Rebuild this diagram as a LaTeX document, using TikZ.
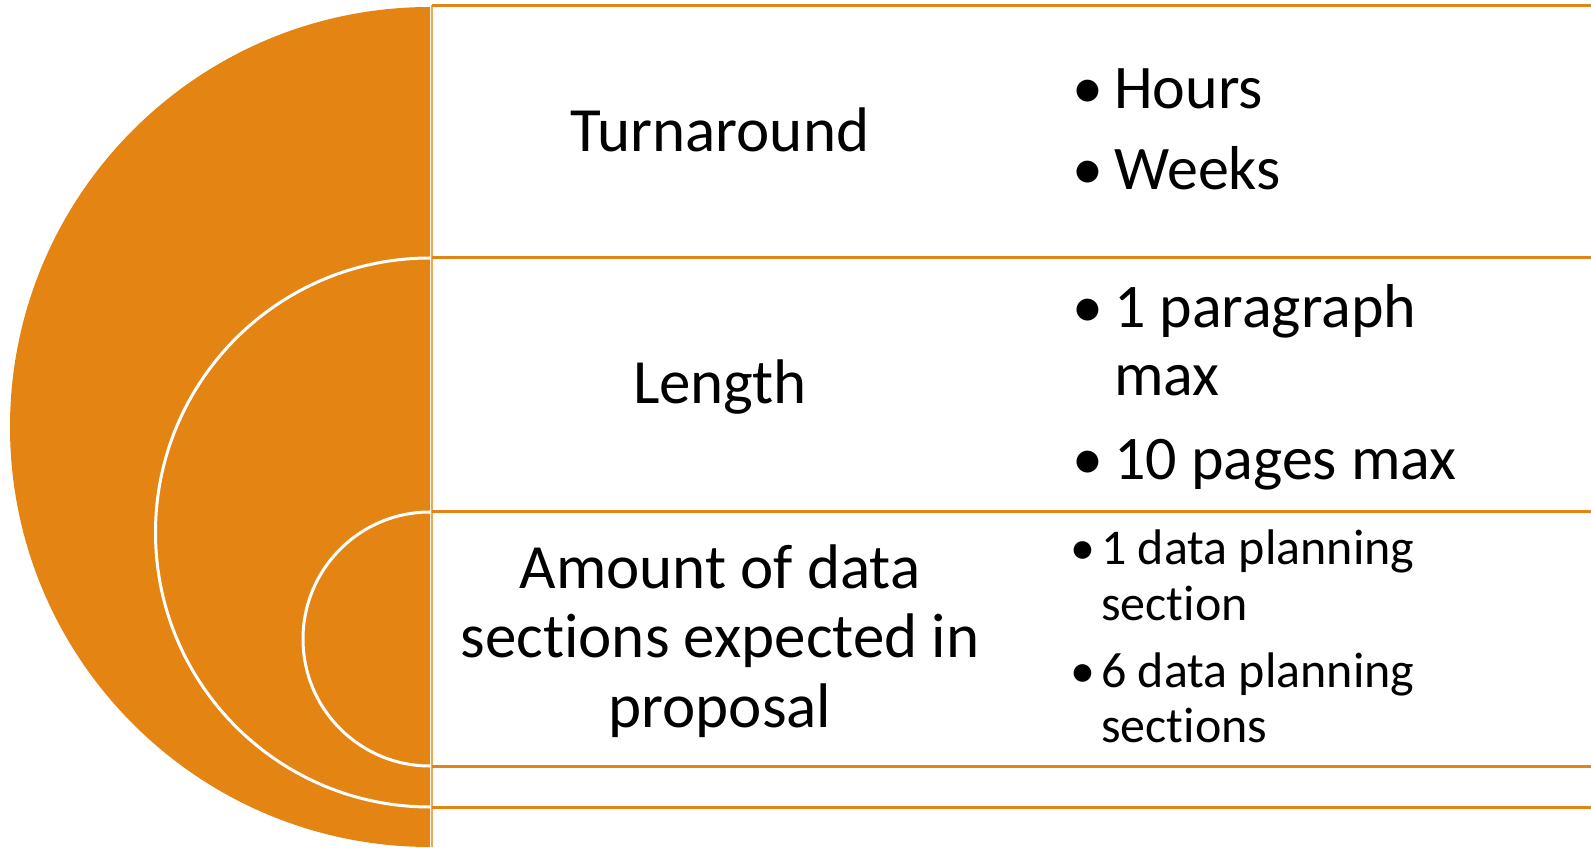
\documentclass[tikz,border=0pt]{standalone}
\usepackage{fontspec}
\setmainfont{Carlito}[Ligatures=NoCommon]
\definecolor{arcorange}{HTML}{E38413}
\newcommand{\bitem}[2]{\makebox[#1][l]{\textbullet}\begin{tabular}[t]{@{}l@{}}#2\end{tabular}}

\begin{document}
\begin{tikzpicture}
  [x=1pt,y=1pt,
   arcw/.style={draw=white,line width=3pt},
   rowline/.style={draw=arcorange,line width=3pt},
   lbl/.style={anchor=base,align=center,inner sep=0pt,font=\fontsize{63}{69.5}\selectfont},
   itm/.style={anchor=base west,inner sep=0pt,font=\fontsize{62}{68}\selectfont},
   smallitm/.style={anchor=base west,inner sep=0pt,font=\fontsize{50}{56}\selectfont}]

  \useasboundingbox (0,0) rectangle (1591,847);

  % nested half discs
  \fill[arcorange] (430,840) arc (90:270:420) -- cycle;
  \draw[arcw] (430,589) arc (90:270:274.5);
  \draw[arcw] (430,335) arc (90:270:127);

  % rows
  \draw[arcorange!70,line width=2pt] (432,841.5) -- (432,0);
  \draw[rowline] (432,841.5) -- (1591,841.5);
  \draw[rowline] (432,589) -- (1591,589);
  \draw[rowline] (432,335) -- (1591,335);
  \draw[rowline] (432,81) -- (1591,81);
  \draw[rowline] (432,40) -- (1591,40);

  \node[lbl] (turn) at (720,695) {Turnaround};
  \node[lbl] (len)  at (720,443) {Length};
  \node[lbl] (amt)  at (720,120) {Amount of data\\sections expected in\\proposal};

  \node[itm] (hrs)   at (1072,738) {\bitem{42pt}{Hours}};
  \node[itm] (wks)   at (1072,657) {\bitem{42pt}{Weeks}};
  \node[itm] (para)  at (1072,519) {\bitem{42pt}{1 paragraph\\max}};
  \node[itm] (pages) at (1072,367) {\bitem{42pt}{10 pages max}};

  \node[smallitm] (one) at (1070,282) {\bitem{31pt}{1 data planning\\section}};
  \node[smallitm] (six) at (1070,160) {\bitem{31pt}{6 data planning\\sections}};

\end{tikzpicture}
\end{document}
